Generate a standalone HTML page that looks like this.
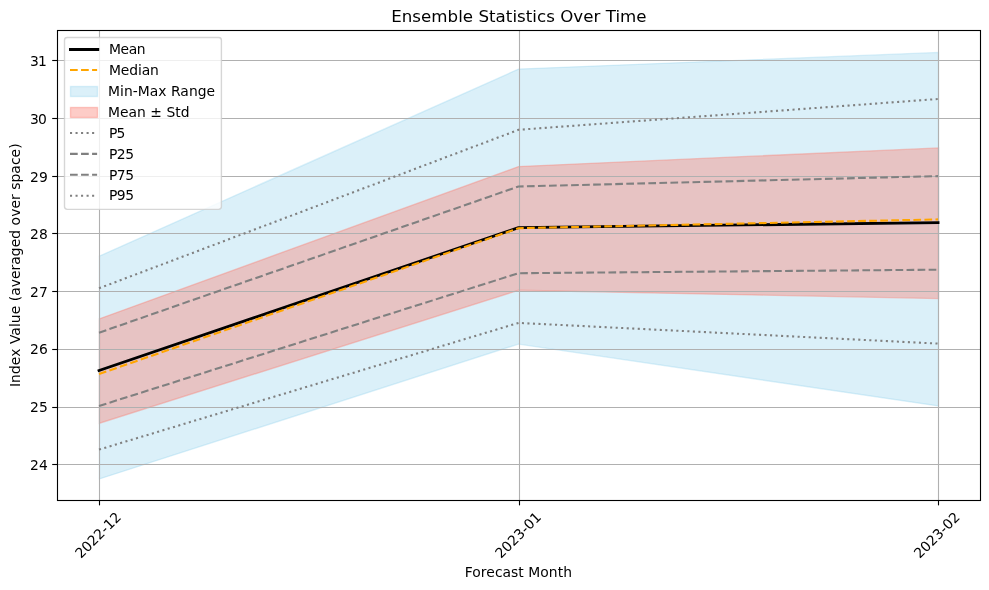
<!DOCTYPE html>
<html lang="en"><head><meta charset="utf-8"><title>Ensemble Statistics Over Time</title>
<style>
html,body{margin:0;padding:0;background:#fff;}
body{width:989px;height:590px;overflow:hidden;}
svg{display:block;}
text{font-family:"DejaVu Sans", "Liberation Sans", sans-serif;font-size:13.889px;fill:#000;}
.title{font-size:16.667px;}
</style></head><body>
<svg width="989" height="590" viewBox="0 0 989 590">
<rect x="0" y="0" width="989" height="590" fill="#ffffff"/>
<defs><clipPath id="ax"><rect x="57.5" y="30.5" width="923.0" height="470.0"/></clipPath></defs>
<g clip-path="url(#ax)">
<polygon points="99.45,256.10 518.50,69.10 938.50,52.40 938.50,405.90 518.50,344.10 99.45,478.90" fill="#87ceeb" fill-opacity="0.3" stroke="#87ceeb" stroke-opacity="0.3" stroke-width="1.389" stroke-linejoin="miter"/>
<polygon points="99.45,318.80 518.50,166.60 938.50,147.90 938.50,298.60 518.50,290.30 99.45,423.25" fill="#fa8072" fill-opacity="0.4" stroke="#fa8072" stroke-opacity="0.4" stroke-width="1.389" stroke-linejoin="miter"/>
</g>
<g stroke="#b0b0b0" stroke-width="1.111" fill="none">
<line x1="99.5" y1="30.5" x2="99.5" y2="500.5"/>
<line x1="519.5" y1="30.5" x2="519.5" y2="500.5"/>
<line x1="938.5" y1="30.5" x2="938.5" y2="500.5"/>
<line x1="57.5" y1="60.50" x2="980.5" y2="60.50"/>
<line x1="57.5" y1="118.50" x2="980.5" y2="118.50"/>
<line x1="57.5" y1="176.50" x2="980.5" y2="176.50"/>
<line x1="57.5" y1="233.50" x2="980.5" y2="233.50"/>
<line x1="57.5" y1="291.50" x2="980.5" y2="291.50"/>
<line x1="57.5" y1="349.50" x2="980.5" y2="349.50"/>
<line x1="57.5" y1="407.50" x2="980.5" y2="407.50"/>
<line x1="57.5" y1="464.50" x2="980.5" y2="464.50"/>
</g>
<g stroke="#000" stroke-width="1.111" fill="none">
<line x1="99.5" y1="500.5" x2="99.5" y2="505.36"/>
<line x1="519.5" y1="500.5" x2="519.5" y2="505.36"/>
<line x1="938.5" y1="500.5" x2="938.5" y2="505.36"/>
<line x1="57.5" y1="60.50" x2="52.20" y2="60.50"/>
<line x1="57.5" y1="118.50" x2="52.20" y2="118.50"/>
<line x1="57.5" y1="176.50" x2="52.20" y2="176.50"/>
<line x1="57.5" y1="233.50" x2="52.20" y2="233.50"/>
<line x1="57.5" y1="291.50" x2="52.20" y2="291.50"/>
<line x1="57.5" y1="349.50" x2="52.20" y2="349.50"/>
<line x1="57.5" y1="407.50" x2="52.20" y2="407.50"/>
<line x1="57.5" y1="464.50" x2="52.20" y2="464.50"/>
</g>
<g clip-path="url(#ax)" fill="none">
<polyline points="99.00,370.60 518.50,227.60 938.05,222.70" stroke="#000" stroke-width="2.778" stroke-linecap="square" stroke-linejoin="round"/>
<polyline points="99.00,374.10 518.50,228.20 938.05,219.40" stroke="#ffa500" stroke-width="2.083" stroke-dasharray="7.708 3.333" stroke-linejoin="round"/>
<polyline points="99.00,449.60 518.50,322.90 938.05,343.60" stroke="#808080" stroke-width="2.083" stroke-dasharray="2.083 3.4375" stroke-linejoin="round"/>
<polyline points="99.00,406.00 518.50,273.20 938.05,269.70" stroke="#808080" stroke-width="2.083" stroke-dasharray="7.708 3.333" stroke-linejoin="round"/>
<polyline points="99.00,332.70 518.50,186.50 938.05,176.10" stroke="#808080" stroke-width="2.083" stroke-dasharray="7.708 3.333" stroke-linejoin="round"/>
<polyline points="99.00,288.30 518.50,129.80 938.05,99.00" stroke="#808080" stroke-width="2.083" stroke-dasharray="2.083 3.4375" stroke-linejoin="round"/>
</g>
<rect x="57.5" y="30.5" width="923.0" height="470.0" fill="none" stroke="#000" stroke-width="1.111" stroke-linejoin="miter"/>
<text x="30.11" y="65.70" dx="0 -1">31</text>
<text x="30.11" y="123.70" dx="0 -1">30</text>
<text x="30.11" y="181.70" dx="0 0">29</text>
<text x="30.11" y="238.70" dx="0 0">28</text>
<text x="30.11" y="296.70" dx="0 0">27</text>
<text x="30.11" y="353.70" dx="0 0">26</text>
<text x="30.11" y="411.70" dx="0 0">25</text>
<text x="30.11" y="469.70" dx="0 0">24</text>
<text transform="translate(97.70,534.95) rotate(-45)" x="0" y="5.2" text-anchor="middle">2022-12</text>
<text transform="translate(517.80,534.95) rotate(-45)" x="0" y="5.2" text-anchor="middle">2023-01</text>
<text transform="translate(936.60,534.95) rotate(-45)" x="0" y="5.2" text-anchor="middle">2023-02</text>
<text x="518.4" y="577.3" text-anchor="middle" letter-spacing="0.04">Forecast Month</text>
<text transform="translate(20.1,265.2) rotate(-90)" x="0" y="0" text-anchor="middle" letter-spacing="0.05">Index Value (averaged over space)</text>
<text class="title" x="518.9" y="22.2" text-anchor="middle" letter-spacing="0.03">Ensemble Statistics Over Time</text>
<rect x="64.5" y="37.5" width="156.9" height="171.9" rx="2.78" ry="2.78" fill="#ffffff" fill-opacity="0.8" stroke="#cccccc" stroke-opacity="0.8" stroke-width="1.389"/>
<line x1="69" y1="49.5" x2="99.2" y2="49.5" stroke="#000" stroke-width="3"/>
<line x1="70" y1="70.08" x2="97.1" y2="70.08" stroke="#ffa500" stroke-width="2.083" stroke-dasharray="7.708 3.333"/>
<rect x="70.5" y="86.5" width="27" height="10" fill="#87ceeb" fill-opacity="0.3" stroke="#87ceeb" stroke-opacity="0.3" stroke-width="1.389"/>
<rect x="70.5" y="107.5" width="27" height="10" fill="#fa8072" fill-opacity="0.4" stroke="#fa8072" stroke-opacity="0.4" stroke-width="1.389"/>
<line x1="70" y1="132.92" x2="97.1" y2="132.92" stroke="#808080" stroke-width="2.083" stroke-dasharray="2.083 3.4375"/>
<line x1="70" y1="153.86" x2="97.1" y2="153.86" stroke="#808080" stroke-width="2.083" stroke-dasharray="7.708 3.333"/>
<line x1="70" y1="174.81" x2="97.1" y2="174.81" stroke="#808080" stroke-width="2.083" stroke-dasharray="7.708 3.333"/>
<line x1="70" y1="195.75" x2="97.1" y2="195.75" stroke="#808080" stroke-width="2.083" stroke-dasharray="2.083 3.4375"/>
<text x="108.89" y="54.00" letter-spacing="-0.34">Mean</text>
<text x="108.89" y="74.94" letter-spacing="-0.1">Median</text>
<text x="108.03" y="95.89" letter-spacing="0.03">Min-Max Range</text>
<text x="108.03" y="116.83" letter-spacing="0.02">Mean ± Std</text>
<text x="108.89" y="137.78" letter-spacing="-0.86">P5</text>
<text x="108.89" y="158.72" letter-spacing="-0.43">P25</text>
<text x="108.89" y="179.67" letter-spacing="-0.43">P75</text>
<text x="108.89" y="199.80" letter-spacing="-0.43">P95</text>
</svg>
</body></html>
